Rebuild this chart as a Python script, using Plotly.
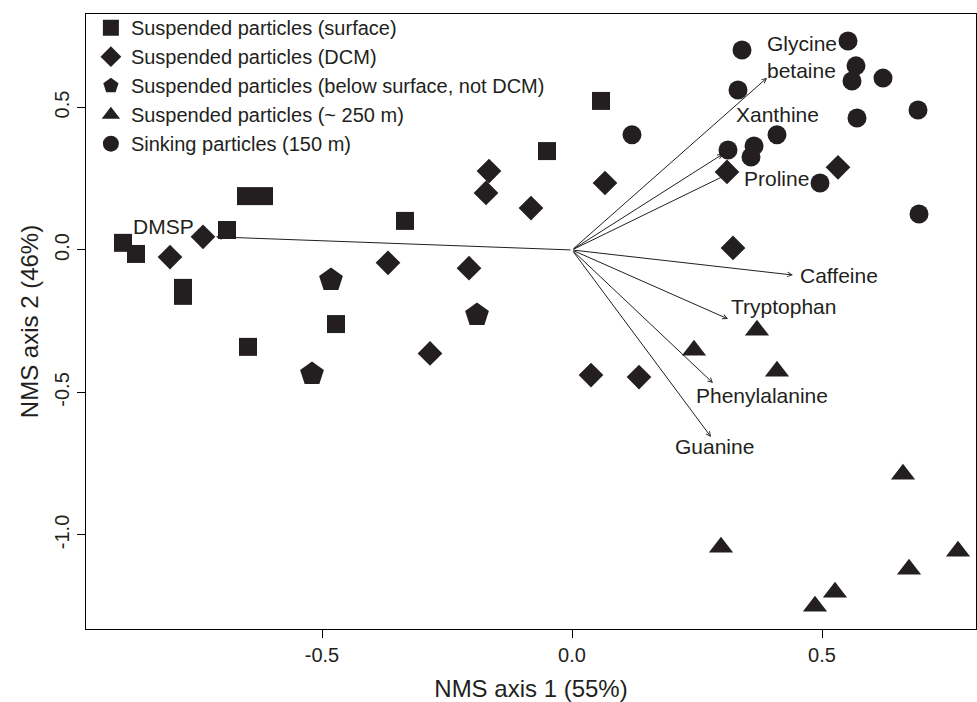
import plotly.graph_objects as go

# ---- data (NMS scores) ----
surface_x = [0.058, -0.050, -0.334, -0.652, -0.616, -0.690, -0.898, -0.872, -0.778, -0.778, -0.648, -0.472]
surface_y = [0.523, 0.347, 0.102, 0.189, 0.189, 0.070, 0.025, -0.014, -0.133, -0.161, -0.340, -0.260]

dcm_x = [-0.166, -0.172, -0.082, -0.738, -0.804, -0.368, -0.206, -0.284, 0.066, 0.310, 0.532, 0.322, 0.038, 0.134]
dcm_y = [0.277, 0.200, 0.147, 0.046, -0.025, -0.045, -0.064, -0.363, 0.235, 0.274, 0.290, 0.007, -0.439, -0.446]

below_x = [-0.482, -0.190, -0.520]
below_y = [-0.105, -0.228, -0.435]

deep_x = [0.370, 0.244, 0.410, 0.662, 0.298, 0.772, 0.674, 0.526, 0.486]
deep_y = [-0.282, -0.352, -0.426, -0.787, -1.043, -1.057, -1.120, -1.201, -1.250]

sink_x = [0.340, 0.552, 0.568, 0.560, 0.622, 0.332, 0.692, 0.570, 0.120, 0.410, 0.312, 0.364, 0.358, 0.496, 0.694]
sink_y = [0.702, 0.733, 0.646, 0.593, 0.603, 0.561, 0.491, 0.463, 0.404, 0.404, 0.351, 0.365, 0.326, 0.235, 0.126]

# ---- biplot vectors (loadings) ----
vec_names = ["DMSP", "Glycine<br>betaine", "Xanthine", "Proline", "Caffeine", "Tryptophan", "Phenylalanine", "Guanine"]
vec_x = [-0.712, 0.390, 0.302, 0.316, 0.442, 0.312, 0.282, 0.278]
vec_y = [0.046, 0.604, 0.337, 0.270, -0.088, -0.242, -0.467, -0.656]
# label anchor positions
lab_x = [-0.818, 0.460, 0.410, 0.408, 0.534, 0.422, 0.380, 0.284]
lab_y = [0.081, 0.677, 0.474, 0.252, -0.088, -0.200, -0.509, -0.688]

x_ticks = [-0.5, 0.0, 0.5]
x_ticktext = ["-0.5", "0.0", "0.5"]
y_ticks = [-1.0, -0.5, 0.0, 0.5]
y_ticktext = ["-1.0", "-0.5", "0.0", "0.5"]

INK = "#231f20"
FONT = "Liberation Sans, Arial, Helvetica, sans-serif"

fig = go.Figure()

series = [
    ("Suspended particles (surface)", surface_x, surface_y, "square", 18),
    ("Suspended particles (DCM)", dcm_x, dcm_y, "diamond", 19),
    ("Suspended particles (below surface, not DCM)", below_x, below_y, "pentagon", 25),
    ("Suspended particles (~ 250 m)", deep_x, deep_y, "triangle-up", 21),
    ("Sinking particles (150 m)", sink_x, sink_y, "circle", 19),
]
for name, xs, ys, sym, sz in series:
    fig.add_trace(go.Scatter(
        x=xs, y=ys, mode="markers", name=name,
        marker=dict(symbol=sym, size=sz, color=INK, line=dict(width=0)),
    ))

annotations = []
for name, vx, vy, lx, ly in zip(vec_names, vec_x, vec_y, lab_x, lab_y):
    annotations.append(dict(
        x=vx, y=vy, ax=0, ay=0, xref="x", yref="y", axref="x", ayref="y",
        text="", showarrow=True, arrowhead=5, arrowsize=0.9, arrowwidth=1,
        arrowcolor=INK, standoff=0, startstandoff=0,
    ))
    annotations.append(dict(
        x=lx, y=ly, xref="x", yref="y", text=name, showarrow=False,
        font=dict(size=21, color=INK, family=FONT), align="left",
    ))

fig.update_layout(
    width=977, height=702,
    margin=dict(l=86, r=1, t=14, b=73),
    paper_bgcolor="white", plot_bgcolor="white",
    font=dict(family=FONT, color=INK),
    showlegend=True,
    legend=dict(
        x=0.0055, y=1.0095, xanchor="left", yanchor="top",
        bgcolor="rgba(0,0,0,0)", borderwidth=0,
        font=dict(size=20, color=INK, family=FONT),
        itemsizing="trace", tracegroupgap=0,
    ),
    annotations=annotations,
    xaxis=dict(
        range=[-0.972, 0.808], tickvals=x_ticks, ticktext=x_ticktext,
        automargin=False,
        showgrid=False, zeroline=False, showline=True, mirror=True,
        linecolor="black", linewidth=1.2, ticks="outside", ticklen=8,
        tickcolor="black", tickfont=dict(size=20, color=INK),
        title=dict(text="NMS axis 1 (55%)", font=dict(size=24, color=INK), standoff=15),
    ),
    yaxis=dict(
        range=[-1.330, 0.828], tickvals=y_ticks, ticktext=y_ticktext,
        tickangle=-90, automargin=False,
        showgrid=False, zeroline=False, showline=True, mirror=True,
        linecolor="black", linewidth=1.2, ticks="outside", ticklen=8,
        tickcolor="black", tickfont=dict(size=20, color=INK),
        title=dict(text="NMS axis 2 (46%)", font=dict(size=24, color=INK), standoff=5),
    ),
)

fig.write_html(
    "out.html",
    config={"displayModeBar": False},
    post_script="document.body.style.margin='0';document.body.style.overflow='hidden';",
)
